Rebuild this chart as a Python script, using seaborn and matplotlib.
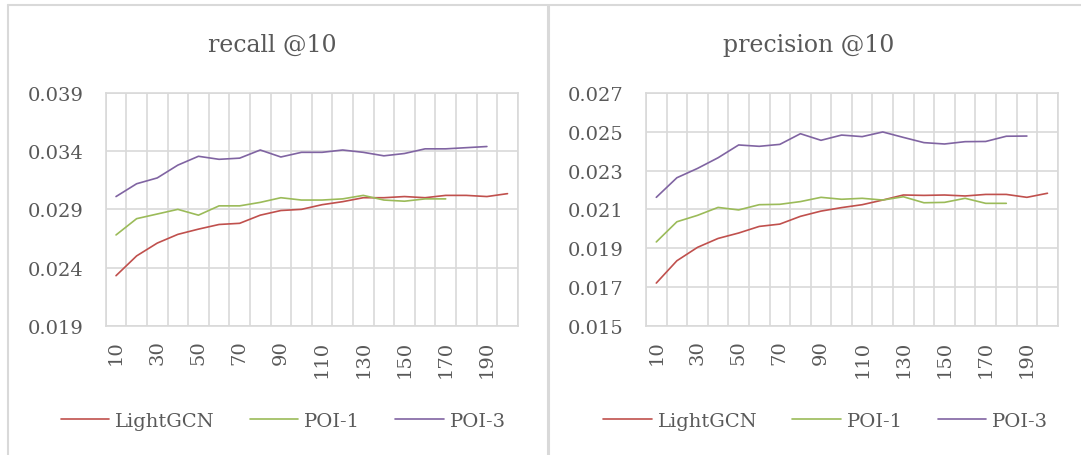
import numpy as np
import pandas as pd
import matplotlib
matplotlib.use("Agg")
import matplotlib.pyplot as plt
from matplotlib.lines import Line2D
from matplotlib.ticker import FixedLocator
import seaborn as sns

# x categories (top-k list length)
ks = list(range(10, 210, 10))

# recall@10
recall_lightgcn = [0.0233, 0.0250, 0.0261, 0.02685, 0.0273, 0.0277, 0.0278, 0.0285, 0.0289, 0.0290,
                   0.0294, 0.02966, 0.0300, 0.0300, 0.0301, 0.0300, 0.0302, 0.0302, 0.0301, 0.03035]
recall_poi1 = [0.0268, 0.0282, 0.0286, 0.0290, 0.0285, 0.0293, 0.0293, 0.0296, 0.0300, 0.0298,
               0.0298, 0.0299, 0.0302, 0.0298, 0.0297, 0.0299, 0.0299]
recall_poi3 = [0.0301, 0.0312, 0.0317, 0.0328, 0.03356, 0.0333, 0.0334, 0.0341, 0.0335, 0.0339,
               0.0339, 0.0341, 0.0339, 0.0336, 0.0338, 0.0342, 0.0342, 0.0343, 0.0344]

# precision@10
prec_lightgcn = [0.0172, 0.01835, 0.01904, 0.0195, 0.01978, 0.02012, 0.02024, 0.02064, 0.02091, 0.02109,
                 0.02124, 0.02148, 0.02174, 0.02172, 0.02174, 0.02169, 0.02177, 0.02177, 0.02162, 0.02183]
prec_poi1 = [0.01932, 0.02036, 0.02069, 0.0211, 0.02097, 0.02124, 0.02126, 0.0214, 0.02162, 0.02152,
             0.02157, 0.02148, 0.02165, 0.02134, 0.02136, 0.02157, 0.02131, 0.02131]
prec_poi3 = [0.02162, 0.02263, 0.02311, 0.02366, 0.02432, 0.02425, 0.02435, 0.0249, 0.02456, 0.02483,
             0.02475, 0.02499, 0.02471, 0.02444, 0.02437, 0.02449, 0.0245, 0.02477, 0.02478]

series_names = ["LightGCN", "POI-1", "POI-3"]
colors = ["#C0504D", "#9BBB59", "#8064A2"]
text_color = "#595959"
grid_color = "#D9D9D9"

sns.set_style("white")
plt.rcParams["font.family"] = ["DejaVu Serif"]


def draw_panel(ax, series, title, yticks, title_x):
    for name, vals, c in zip(series_names, series, colors):
        df = pd.DataFrame({"idx": np.arange(len(vals)), "val": vals})
        sns.lineplot(data=df, x="idx", y="val", ax=ax, color=c, linewidth=1.2)
    ax.set_xlim(-0.5, len(ks) - 0.5)
    ax.set_ylim(yticks[0], yticks[-1])
    ax.set_yticks(yticks)
    ax.set_yticklabels([f"{t:.3f}" for t in yticks], fontsize=14, color=text_color)
    major = np.arange(0, len(ks), 2)
    ax.set_xticks(major)
    ax.set_xticklabels([str(ks[i]) for i in major], rotation=90, fontsize=14, color=text_color)
    ax.xaxis.set_minor_locator(FixedLocator(np.arange(-0.5, len(ks), 1.0)))
    ax.grid(True, which="minor", axis="x", color=grid_color, linewidth=1.2)
    ax.grid(True, which="major", axis="y", color=grid_color, linewidth=1.2)
    ax.tick_params(axis="both", which="both", length=0)
    ax.tick_params(axis="y", pad=16)
    ax.tick_params(axis="x", pad=10)
    for s in ax.spines.values():
        s.set_color(grid_color)
        s.set_linewidth(1.2)
    ax.set_xlabel("")
    ax.set_ylabel("")
    fig.text(title_x, 0.90, title, ha="center", va="center", fontsize=17, color=text_color)


fig = plt.figure(figsize=(10.81, 4.56), dpi=100)
ax1 = fig.add_axes([0.0978, 0.2835, 0.3812, 0.5104])
ax2 = fig.add_axes([0.5976, 0.2835, 0.3809, 0.5104])

draw_panel(ax1, [recall_lightgcn, recall_poi1, recall_poi3], "recall @10",
           [0.019, 0.024, 0.029, 0.034, 0.039], 0.252)
draw_panel(ax2, [prec_lightgcn, prec_poi1, prec_poi3], "precision @10",
           [0.015, 0.017, 0.019, 0.021, 0.023, 0.025, 0.027], 0.748)

handles = [Line2D([], [], color=c, linewidth=1.2) for c in colors]
for cx in (0.262, 0.764):
    fig.legend(handles, series_names, loc="center", bbox_to_anchor=(cx, 0.075), ncol=3,
               frameon=False, fontsize=14, handlelength=2.5, handletextpad=0.3,
               columnspacing=1.8, labelcolor=text_color)

# chart frames (Excel chart area borders)
frame_kw = dict(color=grid_color, linewidth=1.5, transform=fig.transFigure)
fig.add_artist(Line2D([8 / 1081, 1.0], [1 - 6 / 456, 1 - 6 / 456], **frame_kw))
fig.add_artist(Line2D([8 / 1081, 8 / 1081], [0, 1 - 6 / 456], **frame_kw))
fig.add_artist(Line2D([548 / 1081, 548 / 1081], [0, 1 - 6 / 456], color=grid_color,
                      linewidth=2.2, transform=fig.transFigure))

fig.savefig("out.png", dpi=100, facecolor="white")
